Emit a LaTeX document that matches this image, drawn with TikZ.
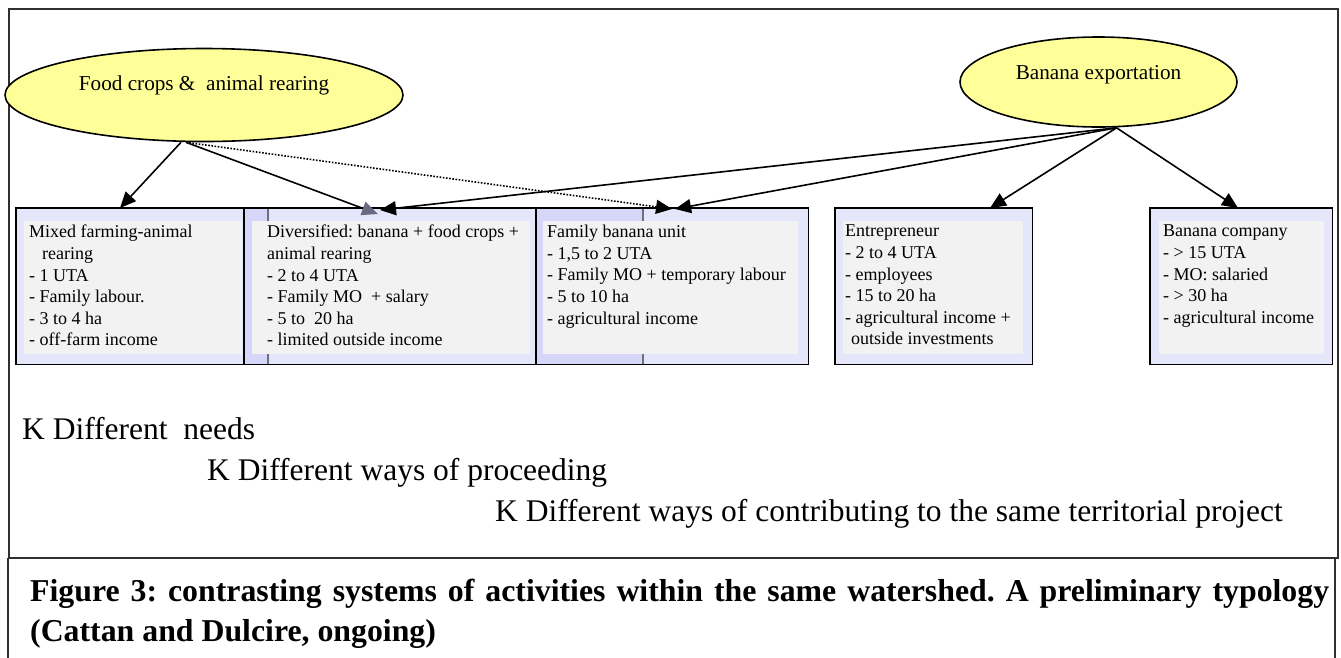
\documentclass[tikz,border=0pt]{standalone}
\usepackage{fontspec}
\setmainfont{Liberation Serif}
\usetikzlibrary{arrows.meta,shapes.geometric,calc}
\definecolor{lav}{HTML}{E6E6FA}
\definecolor{lavdark}{HTML}{D6D6F8}
\definecolor{innergray}{HTML}{F2F2F2}
\definecolor{stripline}{HTML}{6E6E80}
\definecolor{ellfill}{HTML}{FFFF99}
\definecolor{framegray}{HTML}{303030}
\definecolor{headgray}{HTML}{6A6A80}
\frenchspacing
\begin{document}
\begin{tikzpicture}[x=1pt,y=-1pt,
  frame/.style={draw=framegray,line width=1.8pt},
  boxfill/.style={rectangle,fill=lav,draw=none,inner sep=0,anchor=north west},
  boxborder/.style={draw=black,line width=1.8pt},
  strip/.style={fill=lavdark,draw=none},
  stripln/.style={draw=stripline,line width=1.2pt},
  inner/.style={fill=innergray,draw=none},
  boxtext/.style={font=\fontsize{18}{21.6}\selectfont,align=left,anchor=north west,inner sep=0},
  ell/.style={ellipse,draw=black,line width=1.6pt,fill=ellfill,inner sep=0},
  elltext/.style={font=\fontsize{21.2}{25}\selectfont,anchor=base,inner sep=0},
  bigtext/.style={font=\fontsize{31.5}{38}\selectfont,anchor=base west,inner sep=0},
  captext/.style={font=\fontsize{31.8}{38}\selectfont\bfseries,anchor=base west,inner sep=0},
  conn/.style={draw=black,line width=1.6pt,-{Triangle[length=16pt,width=14pt]}},
  dotconn/.style={conn,dash pattern=on 1.6pt off 1.6pt},
  grayconn/.style={draw=black,line width=1.6pt,-{Triangle[length=16pt,width=14pt,fill=headgray,color=headgray]}}
]
\useasboundingbox (0,0) rectangle (1341,657);
\fill[white] (0,0) rectangle (1341,657);

% outer frame
\draw[frame] (9,9) rectangle (1338,558);
\draw[frame] (8,558) -- (8,660);
\draw[frame] (1335,558) -- (1335,660);

% boxes (fills)
\node[boxfill,minimum width=228pt,minimum height=156pt] (b1) at (16,208) {};
\node[boxfill,minimum width=292pt,minimum height=156pt] (b2) at (244,208) {};
\node[boxfill,minimum width=272pt,minimum height=156pt] (b3) at (536,208) {};
\node[boxfill,minimum width=197pt,minimum height=156pt] (b4) at (835,208) {};
\node[boxfill,minimum width=182pt,minimum height=156pt] (b5) at (1150,208) {};

% darker strips
\fill[strip] (b2.north west) rectangle ([xshift=24pt]b2.south west);
\draw[stripln] ([xshift=24pt]b2.north west) -- ([xshift=24pt]b2.south west);
\fill[strip] (b3.north west) rectangle ([xshift=107pt]b3.south west);
\draw[stripln] ([xshift=107pt]b3.north west) -- ([xshift=107pt]b3.south west);

% inner text areas
\fill[inner] (24,221) rectangle (242,354);
\fill[inner] (252,221) rectangle (530,354);
\fill[inner] (543,221) rectangle (798,354);
\fill[inner] (843,221) rectangle (1023,354);
\fill[inner] (1159,221) rectangle (1324,354);

% borders
\draw[boxborder] (b1.north west) rectangle (b1.south east);
\draw[boxborder] (b2.north west) rectangle (b2.south east);
\draw[boxborder] (b3.north west) rectangle (b3.south east);
\draw[boxborder] (b4.north west) rectangle (b4.south east);
\draw[boxborder] (b5.north west) rectangle (b5.south east);

% box texts
\node[boxtext] (t1) at (29,225) {Mixed farming-animal\\\hspace*{13pt}rearing\\- 1 UTA\\- Family labour.\\- 3 to 4 ha\\- off-farm income};
\node[boxtext] (t2) at (267,225) {Diversified: banana + food crops +\\animal rearing\\- 2 to 4 UTA\\- Family MO~ + salary\\- 5 to~ 20 ha\\- limited outside income};
\node[boxtext] (t3) at (547,225) {Family banana unit\\- 1,5 to 2 UTA\\- Family MO + temporary labour\\- 5 to 10 ha\\- agricultural income};
\node[boxtext] (t4) at (845,225) {Entrepreneur\\- 2 to 4 UTA\\- employees\\- 15 to 20 ha\\- agricultural income +\\\hspace*{6pt}outside investments};
\node[boxtext] (t5) at (1163,225) {Banana company\\- > 15 UTA\\- MO: salaried\\- > 30 ha\\- agricultural income};

% ellipses
\node[ell,minimum width=398pt,minimum height=93pt] (food) at (204,95) {};
\node[elltext] (foodt) at (204,90) {Food crops \&~ animal rearing};
\node[ell,minimum width=277pt,minimum height=90pt] (ban) at (1098.5,82) {};
\node[elltext] (bant) at (1098.5,79) {Banana exportation};

% connectors
\draw[conn] ([xshift=-23pt]food.south) -- ([xshift=104pt]b1.north west);
\draw[grayconn] ([xshift=-18pt]food.south) -- ([xshift=134pt,yshift=-6pt]b2.north west);
\draw[dotconn] ([xshift=-18pt]food.south) -- ([xshift=136pt,yshift=-1pt]b3.north west);
\draw[conn] ([xshift=18pt]ban.south) -- ([xshift=136pt,yshift=-2pt]b2.north west);
\draw[conn] ([xshift=18pt]ban.south) -- ([xshift=139pt,yshift=-1pt]b3.north west);
\draw[conn] ([xshift=18pt]ban.south) -- ([xshift=155pt]b4.north west);
\draw[conn] ([xshift=18pt]ban.south) -- ([xshift=88pt]b5.north west);

% bottom texts
\node[bigtext] (k1) at (22,439) {K Different~ needs};
\node[bigtext] (k2) at (207,480) {K Different ways of proceeding};
\node[bigtext] (k3) at (495,521) {K Different ways of contributing to the same territorial project};

% caption
\node[captext] (c1) at (30,601) {\makebox[1299pt][s]{Figure 3: contrasting systems of activities within the same watershed. A preliminary typology}};
\node[captext] (c2) at (30,641) {(Cattan and Dulcire, ongoing)};
\end{tikzpicture}
\end{document}
